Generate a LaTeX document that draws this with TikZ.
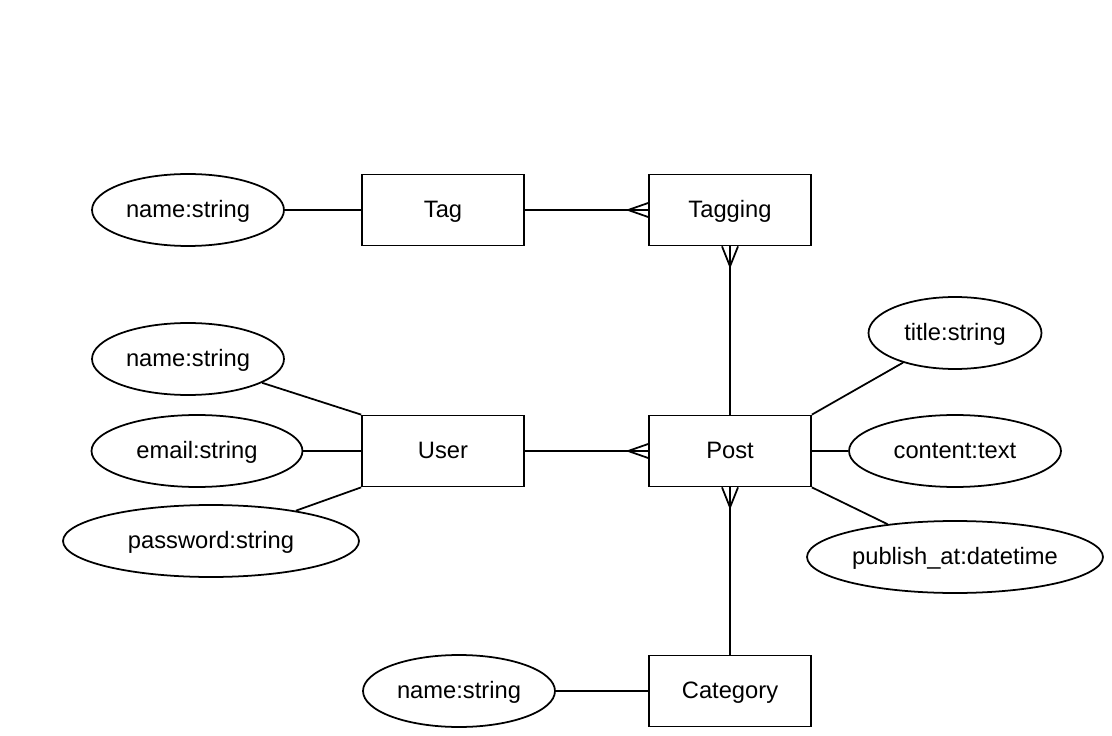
\documentclass[tikz,border=0pt]{standalone}
\usepackage{fontspec}
\setmainfont{Liberation Sans}
\usepackage{tikz}
\usetikzlibrary{shapes.geometric,calc,positioning}

\begin{document}
\begin{tikzpicture}[
    x=0.02cm, y=-0.02cm,
    entity/.style={draw, rectangle, line width=1pt, minimum width=3.24cm, minimum height=1.42cm, inner sep=0pt},
    attr/.style={draw, ellipse, line width=1pt, minimum height=1.44cm, inner sep=0pt},
    link/.style={line width=1pt},
    every node/.style={font=\fontsize{13.5}{16}\selectfont, text height=11pt, text depth=1.9pt}
]
\useasboundingbox (0,0) rectangle (1112,736);
% Entities
\node[entity] (tag) at (443,210) {Tag};
\node[entity] (tagging) at (730,210) {Tagging};
\node[entity] (user) at (443,451) {User};
\node[entity] (post) at (730,451) {Post};
\node[entity] (category) at (730,691) {Category};

% Attributes
\node[attr, minimum width=3.84cm] (tagname) at (188,210) {name:string};
\node[attr, minimum width=3.84cm] (username) at (188,359) {name:string};
\node[attr, minimum width=4.22cm] (useremail) at (197,451) {email:string};
\node[attr, minimum width=5.92cm] (userpass) at (211,541) {password:string};
\node[attr, minimum width=3.46cm] (posttitle) at (955,333) {title:string};
\node[attr, minimum width=4.24cm] (postcontent) at (955,451) {content:text};
\node[attr, minimum width=5.92cm] (postpublish) at (955,557) {publish\_at:datetime};
\node[attr, minimum width=3.84cm] (catname) at (459,691) {name:string};

% Attribute links
\draw[link] (tagname) -- (tag);
\draw[link] (username) -- (user.north west);
\draw[link] (useremail) -- (user);
\draw[link] (userpass) -- (user.south west);
\draw[link] (posttitle) -- (post.north east);
\draw[link] (postcontent) -- (post);
\draw[link] (postpublish) -- (post.south east);
\draw[link] (catname) -- (category);

% Relationships
\draw[link] (tag) -- (tagging);
\draw[link] (tagging) -- (post);
\draw[link] (user) -- (post);
\draw[link] (post) -- (category);

% Crow's feet (many side)
\draw[link] ($(tagging.west)+(0,-7)$) -- ++(-20,7) -- ++(20,7);
\draw[link] ($(tagging.south)+(-8,0)$) -- ++(8,20) -- ++(8,-20);
\draw[link] ($(post.west)+(0,-7)$) -- ++(-20,7) -- ++(20,7);
\draw[link] ($(post.south)+(-8,0)$) -- ++(8,20) -- ++(8,-20);

\end{tikzpicture}
\end{document}
